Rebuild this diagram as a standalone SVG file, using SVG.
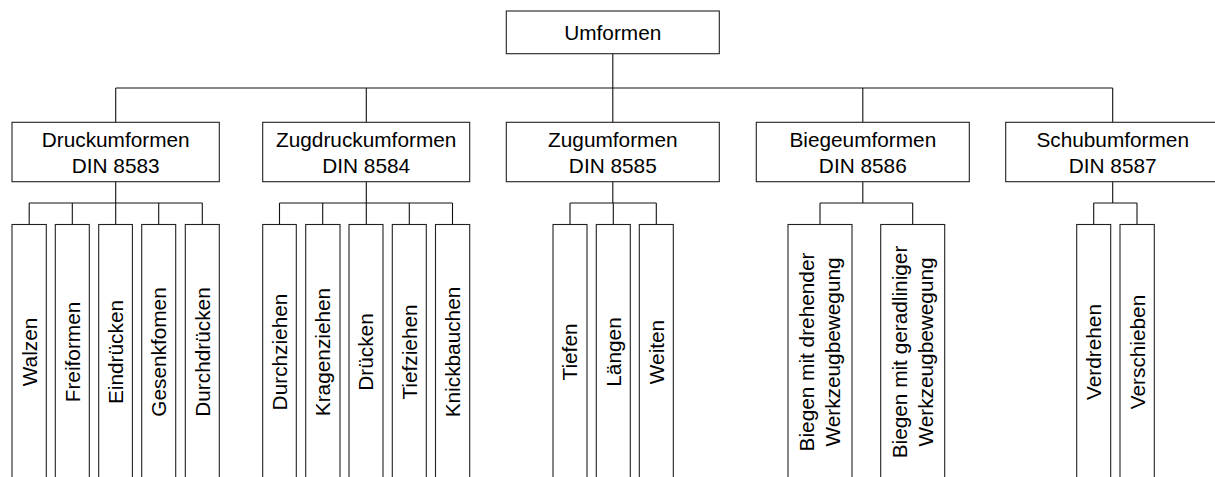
<svg xmlns="http://www.w3.org/2000/svg" width="1215" height="477" viewBox="0 0 1215 477">
<style>
.box{fill:#fff;stroke:#222;stroke-width:1.1}
.ln{fill:none;stroke:#111;stroke-width:1.1}
text{font-family:"Liberation Sans",Arial,sans-serif;font-size:20.8px;fill:#000;text-anchor:middle}
</style>
<rect width="1215" height="477" fill="#fff"/>
<g id="connectors">
<path class="ln" d="M612.8,53.7V88M115.7,88H1112.7M115.7,88V122.3M366.3,88V122.3M612.8,88V122.3M862.8,88V122.3M1112.7,88V122.3"/>
<path class="ln" d="M115.7,181.7V203M29.2,203H202.3M29.2,203V224.5M72.3,203V224.5M115.7,203V224.5M158.7,203V224.5M202.3,203V224.5"/>
<path class="ln" d="M366.3,181.7V203M279.5,203H452.5M279.5,203V224.5M322.7,203V224.5M366.3,203V224.5M409.3,203V224.5M452.5,203V224.5"/>
<path class="ln" d="M612.8,181.7V203M570,203H656.3M570,203V224.5M613.3,203V224.5M656.3,203V224.5"/>
<path class="ln" d="M862.8,181.7V203M820,203H912.7M820,203V224.5M912.7,203V224.5"/>
<path class="ln" d="M1112.7,181.7V203M1093.7,203H1137M1093.7,203V224.5M1137,203V224.5"/>
</g>
<g id="umformen"><rect class="box" x="506.3" y="11" width="213" height="42.7"/><text x="612.8" y="40.4">Umformen</text></g>
<g id="druckumformen"><rect class="box" x="12" y="122.3" width="207.3" height="59.4"/><text x="115.7" y="146.7">Druckumformen</text><text x="115.7" y="172.7">DIN 8583</text></g>
<g id="zugdruckumformen"><rect class="box" x="262.7" y="122.3" width="207" height="59.4"/><text x="366.2" y="146.7">Zugdruckumformen</text><text x="366.2" y="172.7">DIN 8584</text></g>
<g id="zugumformen"><rect class="box" x="506.3" y="122.3" width="213" height="59.4"/><text x="612.8" y="146.7">Zugumformen</text><text x="612.8" y="172.7">DIN 8585</text></g>
<g id="biegeumformen"><rect class="box" x="756.3" y="122.3" width="213" height="59.4"/><text x="862.8" y="146.7">Biegeumformen</text><text x="862.8" y="172.7">DIN 8586</text></g>
<g id="schubumformen"><rect class="box" x="1005.7" y="122.3" width="214" height="59.4"/><text x="1112.7" y="146.7">Schubumformen</text><text x="1112.7" y="172.7">DIN 8587</text></g>
<g id="walzen"><rect class="box" x="12" y="224.5" width="34.3" height="270"/><text transform="translate(29.2,352) rotate(-90)" y="7.45">Walzen</text></g>
<g id="freiformen"><rect class="box" x="55.3" y="224.5" width="34" height="270"/><text transform="translate(72.3,352) rotate(-90)" y="7.45">Freiformen</text></g>
<g id="eindruecken"><rect class="box" x="98.7" y="224.5" width="33.7" height="270"/><text transform="translate(115.6,352) rotate(-90)" y="7.45">Eindrücken</text></g>
<g id="gesenkformen"><rect class="box" x="141.7" y="224.5" width="34" height="270"/><text transform="translate(158.7,352) rotate(-90)" y="7.45">Gesenkfomen</text></g>
<g id="durchdruecken"><rect class="box" x="185.3" y="224.5" width="34" height="270"/><text transform="translate(202.3,352) rotate(-90)" y="7.45">Durchdrücken</text></g>
<g id="durchziehen"><rect class="box" x="262.7" y="224.5" width="33.6" height="270"/><text transform="translate(279.5,352) rotate(-90)" y="7.45">Durchziehen</text></g>
<g id="kragenziehen"><rect class="box" x="305.7" y="224.5" width="34.3" height="270"/><text transform="translate(322.8,352) rotate(-90)" y="7.45">Kragenziehen</text></g>
<g id="druecken"><rect class="box" x="349" y="224.5" width="34" height="270"/><text transform="translate(366,352) rotate(-90)" y="7.45">Drücken</text></g>
<g id="tiefziehen"><rect class="box" x="392.3" y="224.5" width="34" height="270"/><text transform="translate(409.3,352) rotate(-90)" y="7.45">Tiefziehen</text></g>
<g id="knickbauchen"><rect class="box" x="435.5" y="224.5" width="34.2" height="270"/><text transform="translate(452.6,352) rotate(-90)" y="7.45">Knickbauchen</text></g>
<g id="tiefen"><rect class="box" x="553" y="224.5" width="34" height="270"/><text transform="translate(570,352) rotate(-90)" y="7.45">Tiefen</text></g>
<g id="laengen"><rect class="box" x="596.3" y="224.5" width="34" height="270"/><text transform="translate(613.3,352) rotate(-90)" y="7.45">Längen</text></g>
<g id="weiten"><rect class="box" x="639.3" y="224.5" width="34" height="270"/><text transform="translate(656.3,352) rotate(-90)" y="7.45">Weiten</text></g>
<g id="biegen-drehend"><rect class="box" x="788" y="224.5" width="64" height="270"/><text transform="translate(820,352) rotate(-90)"><tspan x="0" y="-5.55">Biegen mit drehender</tspan><tspan x="0" y="20.45">Werkzeugbewegung</tspan></text></g>
<g id="biegen-geradlinig"><rect class="box" x="880.7" y="224.5" width="64" height="270"/><text transform="translate(912.7,352) rotate(-90)"><tspan x="0" y="-5.55">Biegen mit geradliniger</tspan><tspan x="0" y="20.45">Werkzeugbewegung</tspan></text></g>
<g id="verdrehen"><rect class="box" x="1076.7" y="224.5" width="34" height="270"/><text transform="translate(1093.7,352) rotate(-90)" y="7.45">Verdrehen</text></g>
<g id="verschieben"><rect class="box" x="1120" y="224.5" width="34.3" height="270"/><text transform="translate(1137.1,352) rotate(-90)" y="7.45">Verschieben</text></g>
</svg>
